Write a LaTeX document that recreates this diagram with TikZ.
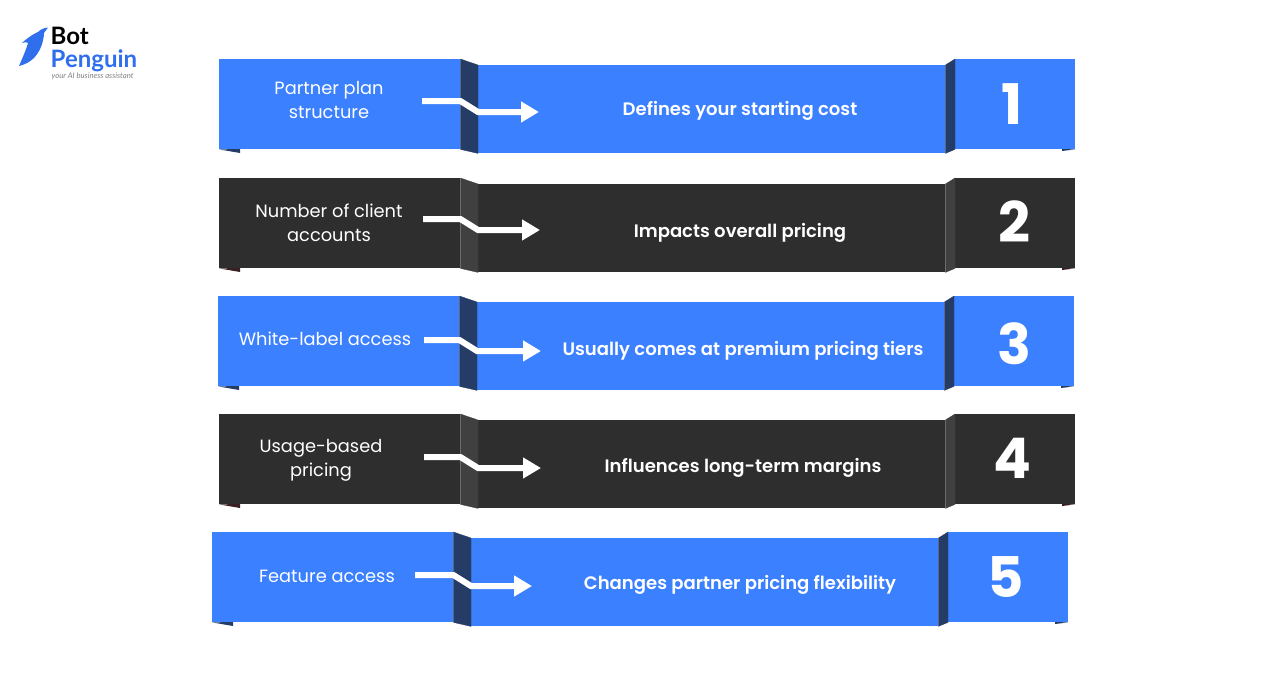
\documentclass[tikz,border=0pt]{standalone}
\usepackage{fontspec}
\setmainfont{Poppins}
\newfontfamily\logofont{Lato}
\newfontfamily\midfont{Poppins SemiBold}
\usetikzlibrary{arrows.meta}
\definecolor{ribbonblue}{HTML}{3B80FF}
\definecolor{foldblue}{HTML}{253C66}
\definecolor{ribbondark}{HTML}{2E2E2E}
\definecolor{folddark}{HTML}{404040}
\definecolor{cornerred}{HTML}{3A2020}
\definecolor{logoblue}{HTML}{2F6FED}
\tikzset{
	leftbox/.style={anchor=north west, inner sep=0pt, minimum width=241pt, minimum height=90pt},
	midbox/.style={anchor=north west, inner sep=0pt, minimum width=467pt, minimum height=88pt},
	rightbox/.style={anchor=north west, inner sep=0pt, minimum width=120pt, minimum height=90pt},
	lefttext/.style={text=white, align=center, font=\fontsize{17.8}{24}\selectfont},
	midtext/.style={text=white, font=\fontsize{18.05}{22}\selectfont\midfont},
	numtext/.style={text=white, font=\fontsize{56}{60}\selectfont\bfseries},
	flow/.style={draw=white, line width=6pt, -{Triangle[length=18pt, width=20pt]}},
	foldb/.style={fill=foldblue, draw=foldblue, line width=0.3pt},
	foldd/.style={fill=folddark, draw=folddark, line width=0.3pt}
}
\begin{document}
\begin{tikzpicture}[x=1pt, y=-1pt]
	\useasboundingbox (0, 0) rectangle (1288, 686);

	% logo
	\fill[logoblue] (48, 27.5) .. controls (44, 28) and (41, 29) .. (38, 32) .. controls (31, 35) and (24, 41) .. (22, 43) .. controls (26, 42) and (27, 42) .. (28, 43) .. controls (26, 50) and (22, 59) .. (19, 66) .. controls (27, 64) and (34, 60) .. (39, 51) .. controls (43, 44) and (44, 36) .. (44, 33) -- cycle;
	\node[anchor=north west, inner sep=0pt, align=left, font=\fontsize{24}{23}\selectfont\logofont\bfseries] (name) at (50.5, 26.5) {Bot\\\textcolor{logoblue}{Penguin}};
	\node[anchor=west, inner sep=0pt, text=gray] (tagline) at (51.5, 76.5) {\logofont\fontsize{7.7}{8}\selectfont\itshape your AI business assistant};

	% row 1
	\node[leftbox, fill=ribbonblue] (l1) at (219, 59) {};
	\node[midbox, fill=ribbonblue] (m1) at (478, 65) {};
	\node[rightbox, fill=ribbonblue] (r1) at (955, 59) {};
	\path[foldb] (l1.north east) -- (m1.north west) -- (m1.south west) -- (l1.south east) -- cycle;
	\path[foldb] (m1.north east) -- (r1.north west) -- (r1.south west) -- (m1.south east) -- cycle;
	\fill[foldblue] (l1.south west) -- (240, 153) -- (240, 149) -- cycle;
	\fill[foldblue] (r1.south east) -- (1062, 151) -- (1062, 149) -- cycle;
	\node[lefttext] (lt1) at (329, 100) {Partner plan\\structure};
	\node[midtext] (mt1) at (740, 110.5) {Defines your starting cost};
	\node[numtext] (n1) at (1012, 104) {1};
	\coordinate (s1) at (422, 101);
	\coordinate (e1) at (539, 112);
	\draw[flow] (s1) -- (s1 -| l1.east) -- (e1 -| m1.west) -- (e1);

	% row 2
	\node[leftbox, fill=ribbondark] (l2) at (219, 178) {};
	\node[midbox, fill=ribbondark] (m2) at (478, 184) {};
	\node[rightbox, fill=ribbondark] (r2) at (955, 178) {};
	\path[foldd] (l2.north east) -- (m2.north west) -- (m2.south west) -- (l2.south east) -- cycle;
	\path[foldd] (m2.north east) -- (r2.north west) -- (r2.south west) -- (m2.south east) -- cycle;
	\fill[cornerred] (l2.south west) -- (240, 272) -- (240, 268) -- cycle;
	\fill[cornerred] (r2.south east) -- (1062, 270) -- (1062, 268) -- cycle;
	\node[lefttext] (lt2) at (329, 223) {Number of client\\accounts};
	\node[midtext] (mt2) at (740, 232.5) {Impacts overall pricing};
	\node[numtext] (n2) at (1014, 222) {2};
	\coordinate (s2) at (423, 219);
	\coordinate (e2) at (540, 230);
	\draw[flow] (s2) -- (s2 -| l2.east) -- (e2 -| m2.west) -- (e2);

	% row 3
	\node[leftbox, fill=ribbonblue] (l3) at (218, 296) {};
	\node[midbox, fill=ribbonblue] (m3) at (477, 302) {};
	\node[rightbox, fill=ribbonblue] (r3) at (954, 296) {};
	\path[foldb] (l3.north east) -- (m3.north west) -- (m3.south west) -- (l3.south east) -- cycle;
	\path[foldb] (m3.north east) -- (r3.north west) -- (r3.south west) -- (m3.south east) -- cycle;
	\fill[foldblue] (l3.south west) -- (239, 390) -- (239, 386) -- cycle;
	\fill[foldblue] (r3.south east) -- (1061, 388) -- (1061, 386) -- cycle;
	\node[lefttext] (lt3) at (325, 339) {White-label access};
	\node[midtext] (mt3) at (743, 350.5) {Usually comes at premium pricing tiers};
	\node[numtext] (n3) at (1014, 344) {3};
	\coordinate (s3) at (424, 340);
	\coordinate (e3) at (541, 351);
	\draw[flow] (s3) -- (s3 -| l3.east) -- (e3 -| m3.west) -- (e3);

	% row 4
	\node[leftbox, fill=ribbondark] (l4) at (219, 414) {};
	\node[midbox, fill=ribbondark] (m4) at (478, 420) {};
	\node[rightbox, fill=ribbondark] (r4) at (955, 414) {};
	\path[foldd] (l4.north east) -- (m4.north west) -- (m4.south west) -- (l4.south east) -- cycle;
	\path[foldd] (m4.north east) -- (r4.north west) -- (r4.south west) -- (m4.south east) -- cycle;
	\fill[cornerred] (l4.south west) -- (240, 508) -- (240, 504) -- cycle;
	\fill[cornerred] (r4.south east) -- (1062, 506) -- (1062, 504) -- cycle;
	\node[lefttext] (lt4) at (321, 460) {Usage-based\\pricing};
	\node[midtext] (mt4) at (743, 467.5) {Influences long-term margins};
	\node[numtext] (n4) at (1012, 458.5) {4};
	\coordinate (s4) at (424, 457);
	\coordinate (e4) at (541, 468);
	\draw[flow] (s4) -- (s4 -| l4.east) -- (e4 -| m4.west) -- (e4);

	% row 5
	\node[leftbox, fill=ribbonblue] (l5) at (212, 532) {};
	\node[midbox, fill=ribbonblue] (m5) at (471, 538) {};
	\node[rightbox, fill=ribbonblue] (r5) at (948, 532) {};
	\path[foldb] (l5.north east) -- (m5.north west) -- (m5.south west) -- (l5.south east) -- cycle;
	\path[foldb] (m5.north east) -- (r5.north west) -- (r5.south west) -- (m5.south east) -- cycle;
	\fill[foldblue] (l5.south west) -- (233, 626) -- (233, 622) -- cycle;
	\fill[foldblue] (r5.south east) -- (1055, 624) -- (1055, 622) -- cycle;
	\node[lefttext] (lt5) at (327, 576) {Feature access};
	\node[midtext] (mt5) at (740, 584.5) {Changes partner pricing flexibility};
	\node[numtext] (n5) at (1005.5, 577) {5};
	\coordinate (s5) at (415, 575);
	\coordinate (e5) at (532, 586);
	\draw[flow] (s5) -- (s5 -| l5.east) -- (e5 -| m5.west) -- (e5);
\end{tikzpicture}
\end{document}
